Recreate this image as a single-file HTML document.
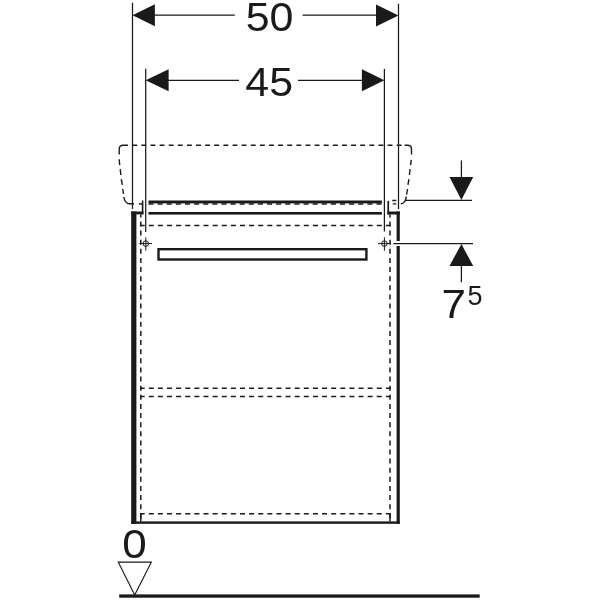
<!DOCTYPE html>
<html>
<head>
<meta charset="utf-8">
<title>Dimension drawing</title>
<style>
html,body{margin:0;padding:0;background:#fff;}
body{width:600px;height:600px;overflow:hidden;}
svg{display:block;}
text{font-family:"Liberation Sans",sans-serif;fill:#1a1a1a;}
</style>
</head>
<body>
<svg width="600" height="600" viewBox="0 0 600 600">
<rect width="600" height="600" fill="#fff"/>
<g fill="none" stroke="#1a1a1a" stroke-width="1.25">
  <!-- extension lines 50 -->
  <path d="M132.5 2.8V209M398.5 3.7V209"/>
  <!-- extension lines 45 -->
  <path d="M145.7 68.8V232M384.4 68.8V231.5"/>
  <!-- dimension lines -->
  <path d="M154 15.2H234.8M302.6 15.2H377"/>
  <path d="M168 80.3H239M298 80.3H362.5"/>
  <!-- right dims -->
  <path d="M405 200.4H472M393.3 243.6H473"/>
  <path d="M461.4 160.5V178M461.4 265V282.3"/>
</g>
<!-- crosshairs -->
<g fill="none" stroke="#1a1a1a" stroke-width="1">
  <circle cx="145.8" cy="243.6" r="2.8"/>
  <path d="M139.4 243.6H152M145.8 237.3V250.7"/>
  <circle cx="384.4" cy="243.6" r="2.8"/>
  <path d="M378 243.6H390.6M384.4 237.3V250.7"/>
</g>
<!-- arrowheads -->
<g fill="#1a1a1a">
  <path d="M132.5 15.2L154.9 4.2V26.2Z"/>
  <path d="M398.5 15.4L376 4.4V26.4Z"/>
  <path d="M145.7 80.3L168.6 69.3V91.3Z"/>
  <path d="M384.4 80.3L361.9 69.3V91.3Z"/>
  <path d="M461.4 200L449.5 177H473.2Z"/>
  <path d="M461.4 244L449.5 266H473.2Z"/>
</g>
<!-- basin dashed outline -->
<g fill="none" stroke="#1a1a1a" stroke-width="1.4">
  <path stroke-dasharray="4.9 4.22" d="M132.22 145.25H405"/>
  <path d="M128 145.25H123.2Q119.2 145.25 119.2 149.2V154.6"/>
  <path d="M119.2 159.3L119.7 165.1M120.2 169.2L120.9 175M121.3 179.1L122.3 184.9M122.7 189L123.5 194"/>
  <path d="M123.8 197Q124.8 203.7 129.6 203.8H134"/>
  <path d="M138.8 203.9H142"/>
  <path d="M404.6 145.25H407.5Q411.5 145.25 411.5 149.2V154.6"/>
  <path d="M411.3 159.8L410.6 165.1M410.1 169.2L409.4 175M408.9 179.1L408 184.9M407.5 189L406.6 194.6"/>
  <path d="M406.3 196.5Q405.6 203.3 400.8 203.9"/>
  <path d="M392.3 200.5H396.3M392.8 203.9H396.3"/>
</g>
<!-- cabinet solid -->
<g fill="#1a1a1a">
  <rect x="148.5" y="200.5" width="233.4" height="2.9"/>
  <rect x="148.5" y="212" width="233.4" height="2.6"/>
  <rect x="131.2" y="211.5" width="5.2" height="312.3"/>
  <rect x="131.2" y="211.5" width="12.2" height="2.9"/>
  <rect x="141.8" y="200.5" width="1.6" height="13.9"/>
  <rect x="396.6" y="211.5" width="3.2" height="29.5"/>
  <rect x="396.6" y="246" width="3.2" height="277.8"/>
  <rect x="387.4" y="211.5" width="12.4" height="3"/>
  <rect x="387.4" y="201" width="1.7" height="13.5"/>
  <rect x="131.2" y="521.4" width="268.6" height="2.4"/>
  <rect x="119.2" y="594.4" width="360.5" height="3.3"/>
</g>
<!-- handle -->
<rect x="158.5" y="249.2" width="207.9" height="10.3" fill="none" stroke="#1a1a1a" stroke-width="2.4"/>
<!-- inner dashed -->
<g fill="none" stroke="#1a1a1a" stroke-width="1.5" stroke-dasharray="5 4.12">
  <path d="M148.5 203.9H382"/>
  <path stroke-dashoffset="2.12" d="M140.8 214.5V521.4M390 214.5V521.4"/>
  <path stroke-dashoffset="0.4" d="M140.05 225.6H390.75M140.05 388.2H390.75M140.05 396.6H390.75M140.05 513.7H390.75"/>
</g>
<path d="M140.8 513V521.4M390 513V521.4" fill="none" stroke="#1a1a1a" stroke-width="1.5"/>
<!-- level triangle -->
<path d="M118.3 562.2H151.3L134.7 595Z" fill="none" stroke="#1a1a1a" stroke-width="1.2"/>
<!-- text -->
<g style="opacity:.999">
<text transform="translate(269.6 31.3) scale(1.075 1.015)" font-size="40" text-anchor="middle">50</text>
<text transform="translate(269.2 96.4) scale(1.075 1.015)" font-size="40" text-anchor="middle">45</text>
<text transform="translate(441.5 318.2) scale(1.1 1.015)" font-size="40">7</text>
<text transform="translate(467.6 304.5) scale(1.02 1.02)" font-size="26.5">5</text>
<text transform="translate(122.2 558.4) scale(1.1 1.03)" font-size="40">0</text>
</g>
</svg>
</body>
</html>
